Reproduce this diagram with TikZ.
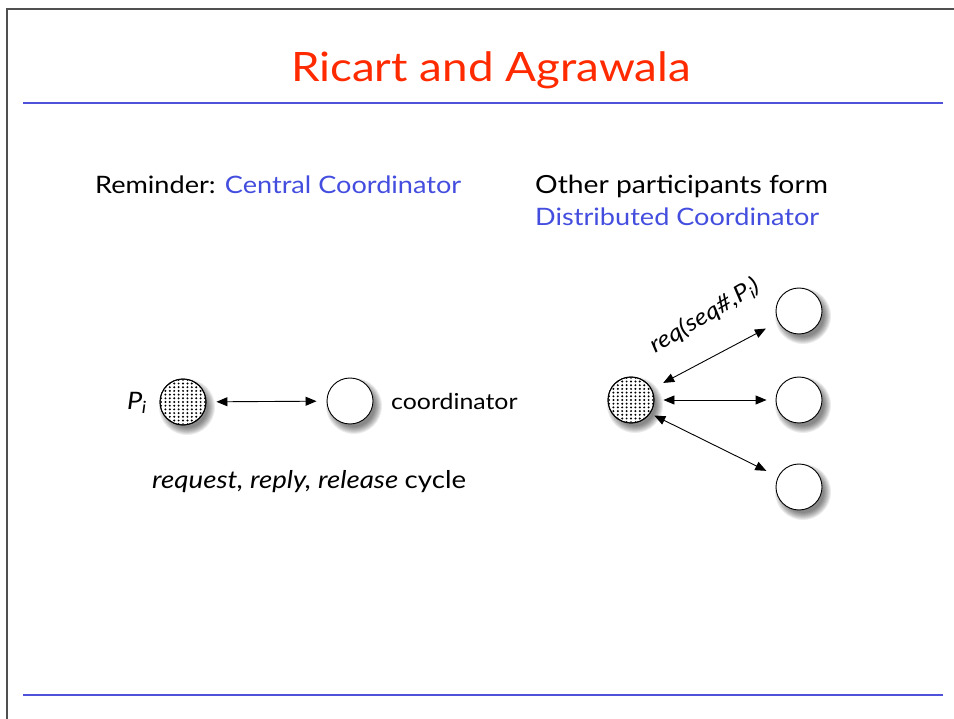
\documentclass[tikz,border=0pt]{standalone}
\usepackage{fontspec}
\setmainfont{Lato}[FakeStretch=1.13]
\usetikzlibrary{arrows.meta}
\definecolor{titlered}{RGB}{255,42,0}
\definecolor{ruleblue}{RGB}{78,82,218}
\definecolor{textblue}{RGB}{68,78,222}
\definecolor{framegray}{RGB}{80,80,80}
\tikzset{
  proc/.style={circle, draw=black, line width=0.9pt, fill=white, minimum size=46pt, inner sep=0pt},
  biarrow/.style={{Triangle[length=11pt,width=9pt]}-{Triangle[length=11pt,width=9pt]}, line width=0.9pt},
  body/.style={font=\fontsize{24}{28}\selectfont, inner sep=0pt},
  label/.style={font=\fontsize{22}{26}\selectfont, inner sep=0pt},
}
\newcommand\softshadow[1]{%
  \foreach \r in {28,27,26,25,24,23,22,21}{%
    \fill[black, opacity=0.075] ([shift={(4pt,-5pt)}]#1) circle (\r pt);}}
\newcommand\mydots[1]{%
  \begin{scope}
    \clip (#1) circle (22.5pt);
    \foreach \i in {-6,...,6}{\foreach \j in {-7,...,7}{%
      \fill ([shift={(\i*4.4pt,\j*3.7pt)}]#1) circle (1.1pt);}}
  \end{scope}
  \draw[line width=0.9pt] (#1) circle (23pt);}
\begin{document}
\begin{tikzpicture}[x=1pt,y=-1pt]
\useasboundingbox (0,0) rectangle (954,719);
% frame
\draw[framegray, line width=1.4pt] (7,719) -- (7,9) -- (954,9);
% rules
\draw[ruleblue, line width=2pt] (23,103) -- (943,103);
\draw[ruleblue, line width=2pt] (23,695) -- (943,695);
% title
\node[text=titlered, font=\fontsize{40.5}{44}\selectfont, anchor=base, inner sep=0pt] (title) at (491,82) {Ricart and Agrawala};
% headings
\node[body, anchor=base west] (rem) at (95,194) {Reminder: \textcolor{textblue}{Central Coordinator}};
\node[body, font=\fontsize{25}{28}\selectfont, anchor=base west] (oth) at (535,194) {Other participants form};
\node[body, anchor=base west, text=textblue] (dist) at (535,226) {Distributed Coordinator};
% positions
\coordinate (pipos) at (183,402);
\coordinate (coordpos) at (350,401);
\coordinate (cpos) at (631,400);
\coordinate (r1pos) at (799,311);
\coordinate (r2pos) at (799,400);
\coordinate (r3pos) at (799,487);
\foreach \p in {pipos,coordpos,cpos,r1pos,r2pos,r3pos}{\softshadow{\p}}
% left diagram
\node[proc] (pi) at (pipos) {};
\mydots{pi}
\node[proc] (coord) at (coordpos) {};
\node[label, font=\fontsize{24}{26}\selectfont, anchor=east] (pil) at (147,403) {\itshape P\textsubscript{\kern-0.5pt i}};
\node[label, anchor=west] (coordl) at (391,401) {coordinator};
\draw[biarrow, shorten <=10pt, shorten >=10pt] (pi) -- (coord);
\node[label, font=\fontsize{24.5}{27}\selectfont, anchor=base west] (cyc) at (152,489) {\itshape request, reply, release \upshape cycle};
% right diagram
\node[proc] (c) at (cpos) {};
\mydots{c}
\node[proc] (r1) at (r1pos) {};
\node[proc] (r2) at (r2pos) {};
\node[proc] (r3) at (r3pos) {};
\draw[biarrow, shorten <=13pt, shorten >=14pt] (c) -- (r1);
\draw[biarrow, shorten <=9pt, shorten >=9pt] (c) -- (r2);
\draw[biarrow, shorten <=26pt, shorten >=13pt] ([yshift=-4pt]c.center) -- (r3);
\node[label, font=\fontsize{23}{26}\selectfont, rotate=31, anchor=center] (req) at (705,316) {\itshape req(seq\#,P\textsubscript{i})};
\end{tikzpicture}
\end{document}
